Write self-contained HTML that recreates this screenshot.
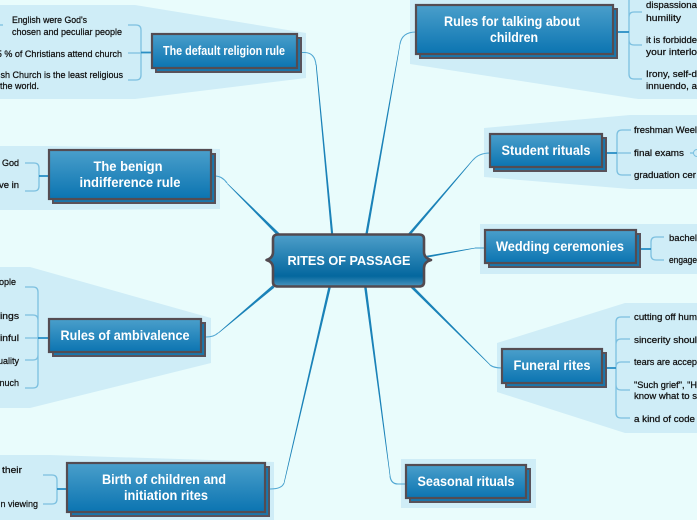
<!DOCTYPE html>
<html><head><meta charset="utf-8"><style>
html,body{margin:0;padding:0;background:#e9fcfc;width:697px;height:520px;overflow:hidden}
svg{display:block}
.t{font-family:"Liberation Sans",sans-serif;font-weight:bold;fill:#fff;text-anchor:middle;font-size:14px}
.l{font-family:"Liberation Sans",sans-serif;fill:#111;font-size:9px;stroke:#111;stroke-width:.25px}
.e{text-anchor:end}
.bd{fill:#cfedf7}
.sub{fill:none;stroke:#7cc0e0;stroke-width:1.3}
.mid{fill:none;stroke:#2a8fc4;stroke-width:1.8}
.end{fill:none;stroke:#4fa6d2;stroke-width:1.1}
.tp{fill:#1a82b8}
.s{fill:#1a76ab;stroke:#59525a;stroke-width:2}
.f{fill:url(#g);stroke:#544c52;stroke-width:2.2}
</style></head><body>
<svg width="697" height="520" viewBox="0 0 697 520" xmlns="http://www.w3.org/2000/svg">
<defs>
<linearGradient id="g" x1="0" y1="0" x2="0" y2="1"><stop offset="0" stop-color="#4a9fcb"/><stop offset="1" stop-color="#0b74b1"/></linearGradient>
<linearGradient id="c" x1="0" y1="0" x2="0" y2="1"><stop offset="0" stop-color="#4e9fca"/><stop offset=".8" stop-color="#04679e"/><stop offset="1" stop-color="#4b94bd"/></linearGradient>
</defs>
<rect width="697" height="520" fill="#e9fcfc"/>
<!-- backdrops -->
<polygon class="bd" points="0,5 135,5 306,33 306,78 135,99 0,99"/>
<polygon class="bd" points="0,146 50,146 220,149 220,209 50,210 0,210"/>
<polygon class="bd" points="0,267 30,267 211,318 211,363 30,408 0,408"/>
<polygon class="bd" points="0,455 50,455 274,462 274,520 0,520"/>
<polygon class="bd" points="410,0 697,0 697,99 638,99 410,64"/>
<polygon class="bd" points="484,128 630,115 697,115 697,189 630,189 484,177"/>
<polygon class="bd" points="480,224 697,224 697,274 480,274"/>
<polygon class="bd" points="497,343 625,303 697,303 697,433 625,433 497,392"/>
<polygon class="bd" points="401,459 536,459 536,508 401,508"/>
<!-- main connectors: tapered -->
<polygon class="tp" points="331.4,238 333.6,238 316.5,64 315.7,64"/>
<path class="end" d="M316,65 Q315,53 305,52.5 L301,52.5"/>
<polygon class="tp" points="279.4,237.6 281.6,235.4 227.4,183.2 226.9,183.6"/>
<path class="end" d="M227,183 Q222,176 215,176"/>
<polygon class="tp" points="272.6,285.2 274.4,287.6 218.4,333.4 218,332.9"/>
<path class="end" d="M218,333 Q214,337 206,337"/>
<polygon class="tp" points="328.8,285 331.2,285.6 284.4,483 283.8,482.8"/>
<path class="end" d="M284,483 Q282,489 270,489"/>
<polygon class="tp" points="365,236 367.4,236 400.3,44 399.7,44"/>
<path class="end" d="M400,44 Q402,32 416,32"/>
<polygon class="tp" points="405.8,236.4 408.2,237.6 473.3,160 472.9,159.5"/>
<path class="end" d="M473,160 Q479,153 490,153"/>
<polygon class="tp" points="425,256 425,258 475,248.4 475,247.8"/>
<path class="end" d="M475,248 L485,248"/>
<polygon class="tp" points="410.8,287.8 413.2,286.2 490.3,364.6 489.9,365.1"/>
<path class="end" d="M490,365 Q494,368 502,368"/>
<polygon class="tp" points="364,286 366.5,286 390.4,476 389.8,476"/>
<path class="end" d="M390,476 Q391,484 398,484 L406,484"/>
<!-- subtopic brackets -->
<path class="sub" d="M128,25 L136,25 Q141,25 141,30 L141,75 Q141,80 136,80 L128,80 M128,53 L141,53"/>
<path class="mid" d="M152,52.5 L141,52.5"/>
<path class="sub" d="M0,25 L3,25"/>
<path class="sub" d="M25,163 L34,163 Q39,163 39,168 L39,186 Q39,191 34,191 L25,191"/>
<path class="mid" d="M49,176 L39,176"/>
<path class="sub" d="M25,287 L33,287 Q38,287 38,292 L38,383 Q38,388 33,388 L25,388 M25,315 L33,315 Q38,315 38,320 M25,338 L38,338 M25,360 L33,360 Q38,360 38,355"/>
<path class="mid" d="M49,338 L38,338"/>
<path class="sub" d="M43,475 L52,475 Q57,475 57,480 L57,499 Q57,504 52,504 L43,504"/>
<path class="mid" d="M67,489 L57,489"/>
<path class="sub" d="M629,0 L629,74 Q629,79 634,79 L642,79 M629,17 Q629,12 634,12 L642,12 M629,40 Q629,45 634,45 L642,45"/>
<path class="mid" d="M617,32 L629,32"/>
<path class="sub" d="M617,153 L631,153 M631,130 L622,130 Q617,130 617,135 L617,170 Q617,175 622,175 L631,175"/>
<path class="mid" d="M606,153 L617,153"/>
<path class="sub" d="M690,153 L694,153"/><circle cx="697" cy="153" r="3.5" fill="#cfedf7" stroke="#7cc0e0"/>
<path class="sub" d="M664,237 L656,237 Q651,237 651,242 L651,255 Q651,260 656,260 L664,260"/>
<path class="mid" d="M640,249 L651,249"/>
<path class="sub" d="M630,317 L621,317 Q616,317 616,322 L616,413 Q616,418 621,418 L630,418 M630,339 L621,339 Q616,339 616,344 M630,362 L621,362 Q616,362 616,367 M616,385 Q616,390 621,390 L630,390"/>
<path class="mid" d="M606,368 L616,368"/>
<!-- nodes -->
<rect class="s" x="156" y="38" width="145" height="34"/><rect class="f" x="152" y="34" width="145" height="34"/>
<text class="t" x="224" y="55" textLength="122" lengthAdjust="spacingAndGlyphs" style="font-size:13px">The default religion rule</text>
<rect class="s" x="53" y="154" width="162" height="49"/><rect class="f" x="49" y="150" width="162" height="49"/>
<text class="t" x="128" y="171" textLength="69" lengthAdjust="spacingAndGlyphs">The benign</text>
<text class="t" x="130" y="187" textLength="101" lengthAdjust="spacingAndGlyphs">indifference rule</text>
<rect class="s" x="53" y="323" width="152" height="33"/><rect class="f" x="49" y="319" width="152" height="33"/>
<text class="t" x="125" y="340" textLength="129" lengthAdjust="spacingAndGlyphs">Rules of ambivalence</text>
<rect class="s" x="71" y="467" width="198" height="49"/><rect class="f" x="67" y="463" width="198" height="49"/>
<text class="t" x="164" y="484" textLength="124" lengthAdjust="spacingAndGlyphs">Birth of children and</text>
<text class="t" x="166" y="500" textLength="84" lengthAdjust="spacingAndGlyphs">initiation rites</text>
<rect class="s" x="420" y="9" width="197" height="49"/><rect class="f" x="416" y="5" width="197" height="49"/>
<text class="t" x="512" y="26" textLength="136" lengthAdjust="spacingAndGlyphs">Rules for talking about</text>
<text class="t" x="514" y="42" textLength="48" lengthAdjust="spacingAndGlyphs">children</text>
<rect class="s" x="494" y="138" width="112" height="33"/><rect class="f" x="490" y="134" width="112" height="33"/>
<text class="t" x="546" y="155" textLength="89" lengthAdjust="spacingAndGlyphs">Student rituals</text>
<rect class="s" x="489" y="234" width="151" height="33"/><rect class="f" x="485" y="230" width="151" height="33"/>
<text class="t" x="560" y="251" textLength="128" lengthAdjust="spacingAndGlyphs">Wedding ceremonies</text>
<rect class="s" x="506" y="353" width="100" height="34"/><rect class="f" x="502" y="349" width="100" height="34"/>
<text class="t" x="552" y="370" textLength="77" lengthAdjust="spacingAndGlyphs">Funeral rites</text>
<rect class="s" x="410" y="469" width="120" height="33"/><rect class="f" x="406" y="465" width="120" height="33"/>
<text class="t" x="466" y="486" textLength="97" lengthAdjust="spacingAndGlyphs">Seasonal rituals</text>
<!-- center -->
<path d="M278,234.5 L419,234.5 Q424,234.5 424,239 L424,252 Q424,258 431,260 Q424,262 424,268 L424,282 Q424,286.5 419,286.5 L278,286.5 Q273,286.5 273,282 L273,268 Q273,262 266.5,260 Q273,258 273,252 L273,239 Q273,234.5 278,234.5 Z" fill="url(#c)" stroke="#524a50" stroke-width="2.6" stroke-linejoin="round"/>
<text class="t" x="349" y="265" textLength="123" lengthAdjust="spacingAndGlyphs" style="font-size:13px">RITES OF PASSAGE</text>
<!-- labels -->
<text class="l" x="12" y="23" textLength="75" lengthAdjust="spacingAndGlyphs">English were God's</text>
<text class="l" x="12" y="35" textLength="110" lengthAdjust="spacingAndGlyphs">chosen and peculiar people</text>
<text class="l e" x="122" y="57">5 % of Christians attend church</text>
<text class="l e" x="123" y="78">sh Church is the least religious</text>
<text class="l" x="0" y="89" textLength="39" lengthAdjust="spacingAndGlyphs">the world.</text>
<text class="l e" x="19" y="166">God</text>
<text class="l" x="-1" y="188" textLength="20" lengthAdjust="spacingAndGlyphs">ve in</text>
<text class="l" x="-1" y="285" textLength="17" lengthAdjust="spacingAndGlyphs">ople</text>
<text class="l" x="0" y="319" textLength="19" lengthAdjust="spacingAndGlyphs">ings</text>
<text class="l" x="0" y="341" textLength="19" lengthAdjust="spacingAndGlyphs">inful</text>
<text class="l e" x="19" y="364">uality</text>
<text class="l e" x="19" y="386">nuch</text>
<text class="l" x="2" y="473" textLength="20" lengthAdjust="spacingAndGlyphs">their</text>
<text class="l e" x="38" y="507">n viewing</text>
<text class="l" x="646" y="8" textLength="51" lengthAdjust="spacingAndGlyphs">dispassiona</text>
<text class="l" x="646" y="21" textLength="35" lengthAdjust="spacingAndGlyphs">humility</text>
<text class="l" x="646" y="43" textLength="51" lengthAdjust="spacingAndGlyphs">it is forbidde</text>
<text class="l" x="646" y="55" textLength="51" lengthAdjust="spacingAndGlyphs">your interlo</text>
<text class="l" x="646" y="77" textLength="51" lengthAdjust="spacingAndGlyphs">Irony, self-d</text>
<text class="l" x="646" y="89" textLength="51" lengthAdjust="spacingAndGlyphs">innuendo, a</text>
<text class="l" x="634" y="133" textLength="63" lengthAdjust="spacingAndGlyphs">freshman Weel</text>
<text class="l" x="634" y="156" textLength="50" lengthAdjust="spacingAndGlyphs">final exams</text>
<text class="l" x="634" y="178" textLength="62" lengthAdjust="spacingAndGlyphs">graduation cer</text>
<text class="l" x="669" y="241" textLength="28" lengthAdjust="spacingAndGlyphs">bachel</text>
<text class="l" x="669" y="263" textLength="28" lengthAdjust="spacingAndGlyphs">engage</text>
<text class="l" x="634" y="320" textLength="63" lengthAdjust="spacingAndGlyphs">cutting off hum</text>
<text class="l" x="634" y="343" textLength="63" lengthAdjust="spacingAndGlyphs">sincerity shoul</text>
<text class="l" x="634" y="365" textLength="63" lengthAdjust="spacingAndGlyphs">tears are accep</text>
<text class="l" x="634" y="388" textLength="63" lengthAdjust="spacingAndGlyphs">"Such grief", "H</text>
<text class="l" x="634" y="399" textLength="63" lengthAdjust="spacingAndGlyphs">know what to s</text>
<text class="l" x="634" y="422" textLength="61" lengthAdjust="spacingAndGlyphs">a kind of code</text>
</svg>
</body></html>
